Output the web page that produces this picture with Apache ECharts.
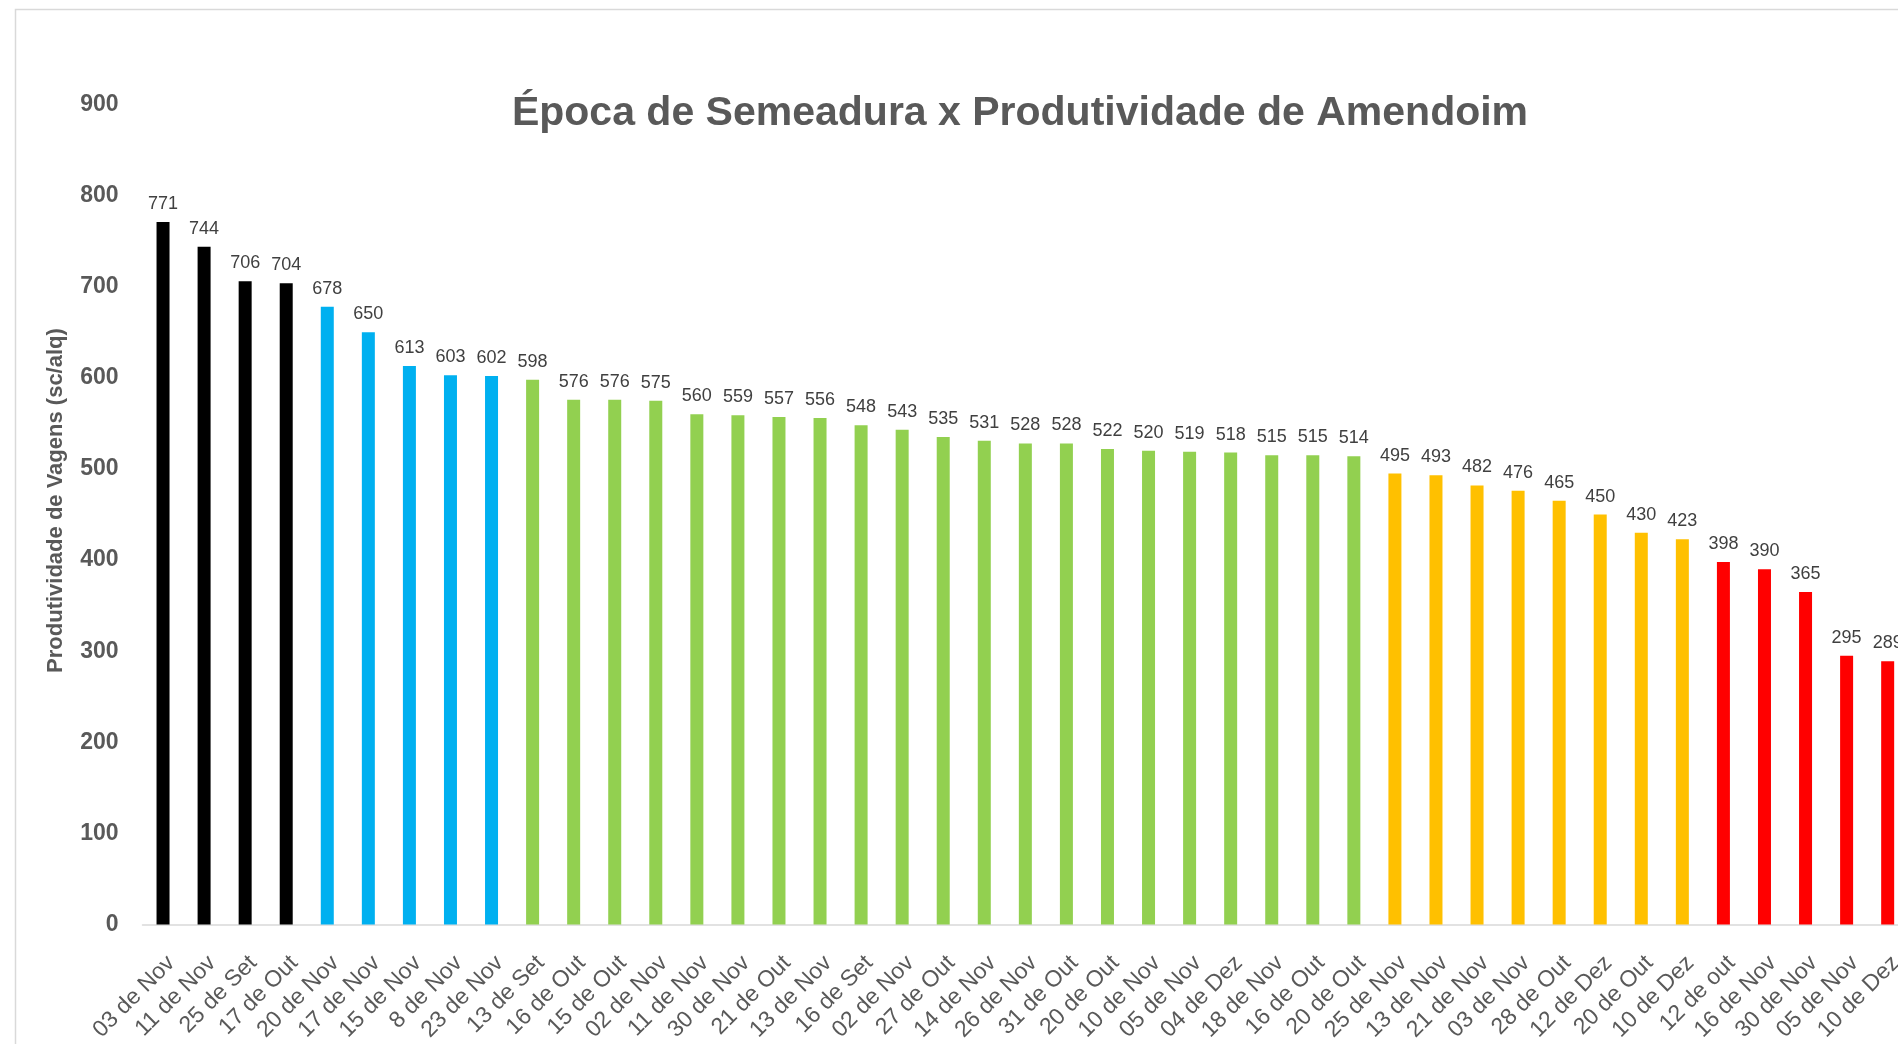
<!DOCTYPE html>
<html>
<head>
<meta charset="utf-8">
<title>Época de Semeadura x Produtividade de Amendoim</title>
<script src="https://cdn.jsdelivr.net/npm/echarts@6/dist/echarts.min.js"></script>
<style>
  html, body { margin: 0; padding: 0; background: #ffffff; overflow: hidden; }
  /* o gráfico original é cortado na borda direita, por isso o contêiner é mais largo que a janela */
  #chart { width: 1940px; height: 1044px; }
</style>
</head>
<body>
<div id="chart"></div>
<script>
// dados
const categories = [
  '03 de Nov', '11 de Nov', '25 de Set', '17 de Out', '20 de Nov', '17 de Nov',
  '15 de Nov', '8 de Nov', '23 de Nov', '13 de Set', '16 de Out', '15 de Out',
  '02 de Nov', '11 de Nov', '30 de Nov', '21 de Out', '13 de Nov', '16 de Set',
  '02 de Nov', '27 de Out', '14 de Nov', '26 de Nov', '31 de Out', '20 de Out',
  '10 de Nov', '05 de Nov', '04 de Dez', '18 de Nov', '16 de Out', '20 de Out',
  '25 de Nov', '13 de Nov', '21 de Nov', '03 de Nov', '28 de Out', '12 de Dez',
  '20 de Out', '10 de Dez', '12 de out', '16 de Nov', '30 de Nov', '05 de Nov',
  '10 de Dez',
]
const produtividade = [
  771, 744, 706, 704, 678, 650, 613, 603, 602, 598, 576, 576, 575, 560, 559,
  557, 556, 548, 543, 535, 531, 528, 528, 522, 520, 519, 518, 515, 515, 514,
  495, 493, 482, 476, 465, 450, 430, 423, 398, 390, 365, 295, 289,
]
// quantidade de barras em cada faixa (preto, azul, verde, laranja, vermelho)
const tierSizes = [4, 5, 21, 8, 5]
const yTicks = [0, 100, 200, 300, 400, 500, 600, 700, 800, 900]

const tierColors = ['#000000', '#00b0f0', '#92d050', '#ffc000', '#ff0000']
const textGray = '#595959'
const fontFamily = '"Liberation Sans", Arial, sans-serif'

const colorAt = (index) => {
  let end = 0
  for (let t = 0; t < tierSizes.length; t++) {
    end += tierSizes[t]
    if (index < end) {
      return tierColors[t]
    }
  }
  return tierColors[tierColors.length - 1]
}

const chart = echarts.init(document.getElementById('chart'), null, { renderer: 'canvas' })

chart.setOption({
  animation: false,
  textStyle: { fontFamily },
  graphic: [
    {
      type: 'rect',
      left: 13,
      top: 7,
      shape: { width: 2000, height: 1100 },
      style: { fill: 'none', stroke: '#d9d9d9', lineWidth: 1.5 },
      silent: true,
    },
  ],
  title: {
    text: 'Época de Semeadura x Produtividade de Amendoim',
    left: 1015,
    top: 88,
    textAlign: 'center',
    textStyle: {
      color: textGray,
      fontSize: 41,
      fontWeight: 'bold',
      fontFamily,
    },
  },
  grid: {
    left: 142.5,
    top: 104.6,
    width: 1765.7,
    height: 821,
    containLabel: false,
  },
  xAxis: {
    type: 'category',
    data: categories,
    axisLine: { lineStyle: { color: '#d9d9d9', width: 1.5 } },
    axisTick: { show: false },
    axisLabel: {
      interval: 0,
      rotate: 45,
      margin: 27,
      verticalAlign: 'top',
      color: textGray,
      fontSize: 23,
      fontFamily,
    },
  },
  yAxis: {
    type: 'value',
    min: yTicks[0],
    max: yTicks[yTicks.length - 1],
    interval: yTicks[1] - yTicks[0],
    name: 'Produtividade de Vagens (sc/alq)',
    nameLocation: 'middle',
    nameGap: 76,
    nameTextStyle: {
      color: textGray,
      fontSize: 22,
      fontWeight: 'bold',
      fontFamily,
      padding: [0, 0, 0, 28],
    },
    axisLine: { show: false },
    axisTick: { show: false },
    splitLine: { show: false },
    axisLabel: {
      margin: 24,
      color: textGray,
      fontSize: 23,
      fontWeight: 'bold',
      fontFamily,
    },
  },
  series: [
    {
      name: 'Produtividade',
      type: 'bar',
      barWidth: 13,
      data: produtividade.map((value, index) => ({
        value,
        itemStyle: { color: colorAt(index) },
      })),
      label: {
        show: true,
        position: 'top',
        distance: 9,
        color: '#404040',
        fontSize: 18,
        fontFamily,
      },
    },
  ],
})
</script>
</body>
</html>
